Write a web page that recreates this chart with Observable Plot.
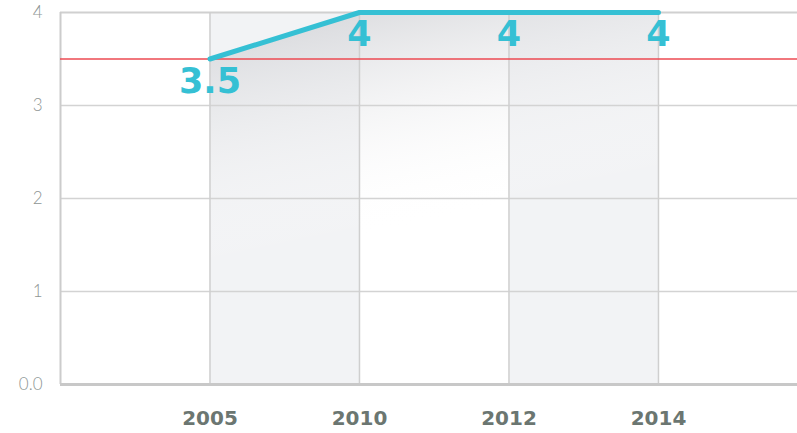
<!DOCTYPE html>
<html>
<head>
<meta charset="utf-8">
<script src="https://cdn.jsdelivr.net/npm/d3@7"></script>
<script src="https://cdn.jsdelivr.net/npm/@observablehq/plot@0.6"></script>
<style>
  html, body { margin: 0; padding: 0; background: #fff; overflow: hidden; }
  #chart svg { display: block; }
</style>
</head>
<body>
<div id="chart"></div>
<script>
const years = ["2005", "2010", "2012", "2014"];
const values = [3.5, 4, 4, 4];
const valueLabels = ["3.5", "4", "4", "4"];
const yTicks = [0, 1, 2, 3, 4];
const threshold = 3.5;
const shadedBands = [[0, 1], [2, 3]]; // index ranges (2005–2010, 2012–2014)

const data = years.map((y, i) => ({i, year: y, value: values[i], label: valueLabels[i]}));
const bands = shadedBands.map(([a, b]) => ({a, b}));

const gradDefs = () => {
  const ns = "http://www.w3.org/2000/svg";
  const defs = document.createElementNS(ns, "defs");
  defs.innerHTML = `
    <linearGradient id="areaGrad" x1="0" y1="0" x2="0.25" y2="1">
      <stop offset="0" stop-color="#cfd0d4" stop-opacity="0.9"/>
      <stop offset="0.65" stop-color="#ffffff" stop-opacity="0"/>
    </linearGradient>`;
  return defs;
};

const chart = Plot.plot({
  width: 797,
  height: 433,
  marginLeft: 60,
  marginRight: 0,
  marginTop: 12,
  marginBottom: 49,
  style: {background: "#fff", overflow: "visible"},
  x: {domain: [-1, 3.93], axis: null},
  y: {domain: [0, 4], axis: null},
  marks: [
    gradDefs,
    Plot.rect(bands, {x1: "a", x2: "b", y1: 0, y2: 4, fill: "#f2f3f5"}),
    Plot.areaY(data, {x: "i", y: "value", fill: "url(#areaGrad)"}),
    Plot.ruleY([1, 2, 3], {stroke: "#d3d3d3", strokeWidth: 1.5}),
    Plot.ruleY([4], {stroke: "#d0d0d0", strokeWidth: 2}),
    Plot.ruleX([0, 1, 2, 3], {y1: 0, y2: 4, stroke: "#cfcfcf", strokeWidth: 1.5}),
    Plot.ruleX([-1], {y1: 0, y2: 4, stroke: "#cccccc", strokeWidth: 2}),
    Plot.ruleY([threshold], {stroke: "#ec4a52", strokeWidth: 1.3}),
    Plot.ruleY([0], {stroke: "#c8c8c8", strokeWidth: 3}),
    Plot.line(data, {x: "i", y: "value", stroke: "#35c0d4", strokeWidth: 5, strokeLinecap: "round"}),
    Plot.text(data, {
      x: "i", y: "value", text: "label",
      fill: "#35c0d4", fontSize: 35, fontWeight: 700, fontFamily: "DejaVu Sans",
      dy: 9, lineAnchor: "top"
    }),
    Plot.axisY(yTicks, {
      label: null,
      tickSize: 0, tickPadding: 18,
      tickFormat: d => d === 0 ? "0.0" : String(d),
      fontSize: 17, fontFamily: "Lato", fill: "#8e9594", fontWeight: 300
    }),
    Plot.axisX([0, 1, 2, 3], {
      label: null,
      tickSize: 0, tickPadding: 26,
      tickFormat: i => years[i],
      fontSize: 20, fontFamily: "DejaVu Sans", fontWeight: 700, fill: "#6b7671"
    })
  ]
});

document.getElementById("chart").appendChild(chart);
</script>
</body>
</html>
